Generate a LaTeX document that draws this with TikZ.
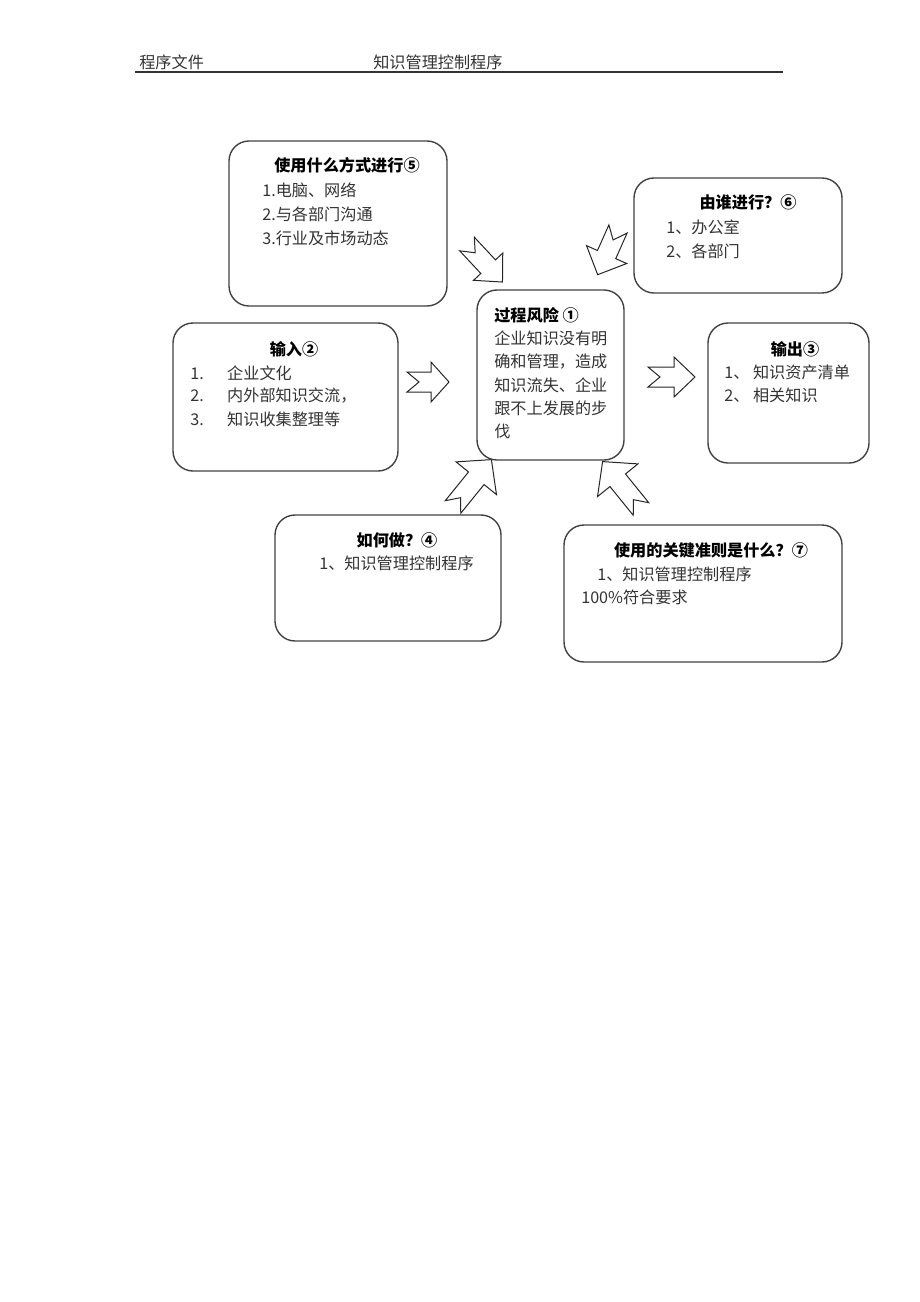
\documentclass[tikz,border=0pt]{standalone}
\usepackage{fontspec}
\setmainfont{Noto Sans CJK SC}
\usetikzlibrary{fit}

\tikzset{
  box/.style={draw=black!75, line width=0.9pt, rounded corners=13pt, inner sep=0pt},
  head/.style={font=\bfseries\fontsize{10.5pt}{13pt}\selectfont, text=black, inner sep=0pt},
  item/.style={font=\fontsize{10.5pt}{13pt}\selectfont, text=black!80, inner sep=0pt, anchor=west},
  arrowline/.style={draw=black!85, line width=0.65pt, fill=white, line join=miter},
  pics/blockarrow/.style n args={3}{code={
    \draw[arrowline] (0,10) -- ({#1-#2},10) -- ({#1-#2},#3) -- (#1,0)
      -- ({#1-#2},-#3) -- ({#1-#2},-10) -- (0,-10) -- (12,0) -- cycle;
  }},
}

\begin{document}
\begin{tikzpicture}[x=0.65pt, y=-0.65pt]
  \useasboundingbox (0,0) rectangle (920,1302);
  % page header
  \node[item] (doc) at (139,62) {程序文件};
  \node[item] (title) at (373,62) {知识管理控制程序};
  \draw[line width=1.3pt, black!80] (135,72) -- (783,72);

  % block arrows
  \pic (toin) at (407,382) {blockarrow={42}{18}{20}};
  \pic (toout) at (648,377) {blockarrow={47}{21}{20}};
  \pic[rotate=-47] (fromway) at (467,244) {blockarrow={52}{21}{20}};
  \pic[rotate=-114] (fromwho) at (618,229) {blockarrow={50}{22}{22}};
  \pic[rotate=51] (fromhow) at (453,507) {blockarrow={61}{24}{26}};
  \pic[rotate=129] (fromrule) at (641,509) {blockarrow={61}{24}{26}};

  % boxes
  \node[box, fit={(229,141) (447,306)}] (way) {};
  \node[box, fit={(634,178) (842,293)}] (who) {};
  \node[box, fit={(173,323) (398,471)}] (in) {};
  \node[box, fit={(477,290) (624,460)}] (risk) {};
  \node[box, fit={(708,323) (869,463)}] (out) {};
  \node[box, fit={(275,515) (501,641)}] (how) {};
  \node[box, fit={(564,525) (842,662)}] (rule) {};

  % way
  \node[head] (way-h) at (347,165) {使用什么方式进行⑤};
  \foreach \t [count=\i] in {1.电脑、网络, 2.与各部门沟通, 3.行业及市场动态}
    \node[item] (way-\i) at (262,166+24*\i) {\t};

  % who
  \node[head] (who-h) at (748,202) {由谁进行？⑥};
  \foreach \t [count=\i] in {1、办公室, 2、各部门}
    \node[item] (who-\i) at (666,203+24*\i) {\t};

  % input
  \node[head] (in-h) at (294,349) {输入②};
  \foreach \n/\t [count=\i] in {1./企业文化, 2./内外部知识交流，, 3./知识收集整理等}
    \node[item] (in-\i) at (190,350+23*\i) {\makebox[24pt][l]{\n}\t};

  % risk
  \node[head, anchor=west] (risk-h) at (494,315) {过程风险 ①};
  \foreach \t [count=\i] in {企业知识没有明, 确和管理，造成, 知识流失、企业, 跟不上发展的步, 伐}
    \node[item] (risk-\i) at (494,315+23.3*\i) {\t};

  % output
  \node[head] (out-h) at (795,349) {输出③};
  \foreach \t [count=\i] in {1、 知识资产清单, 2、 相关知识}
    \node[item] (out-\i) at (724,349+23*\i) {\t};

  % how
  \node[head] (how-h) at (397,540) {如何做？④};
  \node[item] (how-1) at (319,563) {1、知识管理控制程序};

  % rule
  \node[head] (rule-h) at (711,550) {使用的关键准则是什么？⑦};
  \node[item] (rule-1) at (597,574) {1、知识管理控制程序};
  \node[item] (rule-2) at (581,597) {100\%符合要求};
\end{tikzpicture}
\end{document}
